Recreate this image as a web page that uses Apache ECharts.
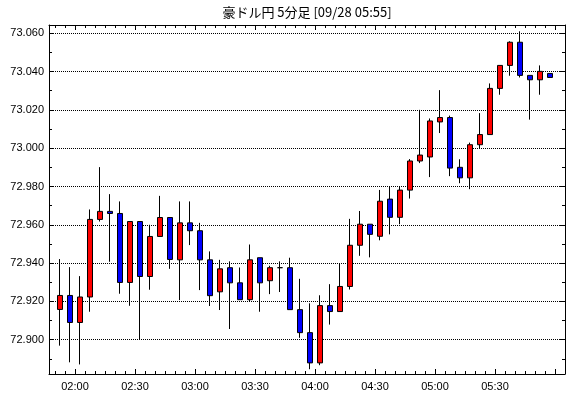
<!DOCTYPE html>
<html>
<head>
<meta charset="utf-8">
<title>豪ドル円 5分足</title>
<script src="https://cdn.jsdelivr.net/npm/echarts@6/dist/echarts.min.js"></script>
<style>
html, body { margin: 0; padding: 0; background: #fff; }
#chart { width: 570px; height: 398px; }
</style>
</head>
<body>
<div id="chart"></div>
<script>
// 5分足の時刻 (足の開始時刻)
var times = [
    '01:50', '01:55', '02:00', '02:05', '02:10', '02:15', '02:20', '02:25', '02:30', '02:35',
    '02:40', '02:45', '02:50', '02:55', '03:00', '03:05', '03:10', '03:15', '03:20', '03:25',
    '03:30', '03:35', '03:40', '03:45', '03:50', '03:55', '04:00', '04:05', '04:10', '04:15',
    '04:20', '04:25', '04:30', '04:35', '04:40', '04:45', '04:50', '04:55', '05:00', '05:05',
    '05:10', '05:15', '05:20', '05:25', '05:30', '05:35', '05:40', '05:45', '05:50', '05:55'
];
// 始値
var opens = [
    72.9158, 72.9231, 72.9090, 72.9223, 72.9628, 72.9670, 72.9659, 72.9299, 72.9617, 72.9330,
    72.9539, 72.9638, 72.9417, 72.9610, 72.9569, 72.9417, 72.9250, 72.9376, 72.9297, 72.9209,
    72.9428, 72.9308, 72.9376, 72.9376, 72.9157, 72.9037, 72.8879, 72.9178, 72.9147, 72.9278,
    72.9493, 72.9603, 72.9540, 72.9734, 72.9639, 72.9781, 72.9933, 72.9954, 73.0137, 73.0160,
    72.9900, 72.9845, 73.0018, 73.0071, 73.0312, 73.0432, 73.0553, 73.0380, 73.0357, 73.0390
];
// 終値
var closes = [
    72.9231, 72.9090, 72.9223, 72.9628, 72.9670, 72.9659, 72.9299, 72.9617, 72.9330, 72.9539,
    72.9638, 72.9419, 72.9610, 72.9569, 72.9417, 72.9230, 72.9370, 72.9297, 72.9209, 72.9417,
    72.9297, 72.9376, 72.9376, 72.9157, 72.9037, 72.8879, 72.9178, 72.9147, 72.9278, 72.9493,
    72.9603, 72.9550, 72.9723, 72.9639, 72.9781, 72.9933, 72.9964, 73.0142, 73.0160, 72.9896,
    72.9845, 73.0018, 73.0071, 73.0312, 73.0432, 73.0553, 73.0380, 73.0357, 73.0401, 73.0369
];
// 安値
var lows = [
    72.8969, 72.8882, 72.8871, 72.9146, 72.9617, 72.9407, 72.9240, 72.9177, 72.9000, 72.9261,
    72.9539, 72.9370, 72.9207, 72.9494, 72.9259, 72.9176, 72.9155, 72.9056, 72.9209, 72.9198,
    72.9146, 72.9238, 72.9249, 72.9157, 72.9010, 72.8846, 72.8867, 72.9079, 72.9147, 72.9262,
    72.9438, 72.9430, 72.9519, 72.9550, 72.9603, 72.9737, 72.9922, 72.9849, 73.0079, 72.9854,
    72.9817, 72.9786, 72.9997, 73.0071, 73.0279, 73.0378, 73.0369, 73.0149, 73.0279, 73.0369
];
// 高値
var highs = [
    72.9421, 72.9379, 72.9332, 72.9680, 72.9901, 72.9760, 72.9722, 72.9617, 72.9617, 72.9600,
    72.9751, 72.9638, 72.9722, 72.9722, 72.9610, 72.9461, 72.9417, 72.9409, 72.9377, 72.9497,
    72.9428, 72.9386, 72.9409, 72.9428, 72.9318, 72.9190, 72.9232, 72.9290, 72.9398, 72.9631,
    72.9672, 72.9603, 72.9782, 72.9802, 72.9802, 72.9943, 73.0200, 73.0155, 73.0303, 73.0170,
    72.9942, 73.0029, 73.0183, 73.0338, 73.0432, 73.0558, 73.0610, 73.0380, 73.0432, 73.0390
];
// 軸ラベル
var timeLabels = ['02:00', '02:30', '03:00', '03:30', '04:00', '04:30', '05:00', '05:30'];
var priceLabels = [72.90, 72.92, 72.94, 72.96, 72.98, 73.00, 73.02, 73.04, 73.06];

var chart = echarts.init(document.getElementById('chart'));

// x軸は足の番号を値にする (足の境目 = 番号 - 0.5)
var xMinorTicks = times.map(function (t, i) { return i - 0.5; });
var xLabelPos = timeLabels.map(function (t) { return times.indexOf(t) - 0.5; });
var xMajorTicks = xLabelPos.concat([times.length - 0.5]);
var yMinorTicks = priceLabels.map(function (v) { return +(v - 0.01).toFixed(3); });

var candles = times.map(function (t, i) {
    return [i, opens[i], closes[i], lows[i], highs[i]];
});

var labelFont = 'Liberation Sans, Arial, sans-serif';

function makeX(pos, ticks, len, showLine, withLabel) {
    return {
        type: 'value',
        position: pos,
        min: -1.1,
        max: 50.5,
        axisLine: { show: showLine, onZero: false, lineStyle: { color: '#000', width: 1 } },
        axisTick: { show: true, inside: true, length: len, customValues: ticks, lineStyle: { color: '#000' } },
        axisLabel: withLabel ? {
            show: true,
            customValues: xLabelPos,
            margin: 7,
            color: '#000',
            fontSize: 11,
            fontFamily: labelFont,
            formatter: function (v) { return times[Math.round(v + 0.5)]; }
        } : { show: false },
        splitLine: { show: false }
    };
}

function makeY(pos, ticks, len, showLine, withLabel) {
    return {
        type: 'value',
        position: pos,
        min: 72.8821,
        max: 73.0643,
        axisLine: { show: showLine, onZero: false, lineStyle: { color: '#000', width: 1 } },
        axisTick: { show: true, inside: true, length: len, customValues: ticks, lineStyle: { color: '#000' } },
        axisLabel: withLabel ? {
            show: true,
            customValues: priceLabels,
            margin: 5,
            color: '#000',
            fontSize: 11,
            fontFamily: labelFont,
            formatter: function (v) { return v.toFixed(3); }
        } : { show: false },
        splitLine: withLabel ? { show: true, lineStyle: { color: '#000', width: 1, type: [1, 1] } } : { show: false }
    };
}

var option = {
    animation: false,
    backgroundColor: '#fff',
    graphic: [{
        type: 'text',
        x: 307,
        y: 12,
        style: {
            text: '豪ドル円 5分足 [09/28 05:55]',
            font: '13px "Noto Sans CJK JP", sans-serif',
            fill: '#000',
            align: 'center',
            verticalAlign: 'middle'
        }
    }],
    grid: { left: 49, right: 5, top: 25, bottom: 24, containLabel: false, outerBoundsMode: 'none' },
    xAxis: [
        makeX('bottom', xMajorTicks, 5, true, true),
        makeX('bottom', xMinorTicks, 3, false, false),
        makeX('top', xMajorTicks, 5, true, false),
        makeX('top', xMinorTicks, 3, false, false)
    ],
    yAxis: [
        makeY('left', priceLabels, 5, true, true),
        makeY('left', yMinorTicks, 3, false, false),
        makeY('right', priceLabels, 5, true, false),
        makeY('right', yMinorTicks, 3, false, false)
    ],
    series: [{
        type: 'candlestick',
        xAxisIndex: 0,
        yAxisIndex: 0,
        data: candles,
        encode: { x: 0, y: [1, 2, 3, 4] },
        barWidth: 6,
        itemStyle: {
            color: '#ff0000',
            color0: '#0000ff',
            borderColor: '#000',
            borderColor0: '#000',
            borderColorDoji: '#000',
            borderWidth: 1
        },
        emphasis: { disabled: true }
    }]
};

chart.setOption(option);
</script>
</body>
</html>
